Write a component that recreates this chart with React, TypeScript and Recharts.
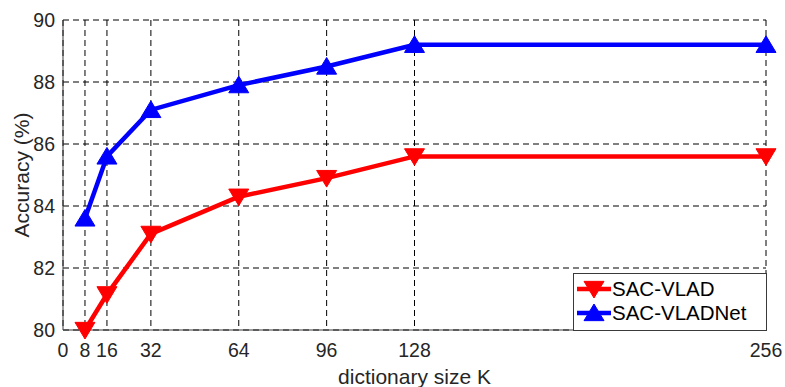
import { CartesianGrid, Line, LineChart, XAxis, YAxis } from "recharts";

const dictSizes = [8, 16, 32, 64, 96, 128, 256];
const sacVlad = [80.0, 81.15, 83.1, 84.3, 84.9, 85.6, 85.6];
const sacVladNet = [83.6, 85.6, 87.1, 87.9, 88.5, 89.2, 89.2];
const xTicks = [0, 8, 16, 32, 64, 96, 128, 256];
const yTicks = [80, 82, 84, 86, 88, 90];

const data = dictSizes.map((k, i) => ({
  k,
  vlad: sacVlad[i],
  vladNet: sacVladNet[i],
}));

const FONT = "'Liberation Sans', Arial, Helvetica, sans-serif";
const TEXT = "#262626";
const FRAME = "#3a3a3a";

function Triangle({
  cx,
  cy,
  color,
  down,
}: {
  cx?: number;
  cy?: number;
  color: string;
  down?: boolean;
}) {
  if (cx == null || cy == null) return null;
  const w = 10;
  const h = down ? 9 : -9;
  const points = `${cx - w},${cy - h * 0.85} ${cx + w},${cy - h * 0.85} ${cx},${cy + h}`;
  return <polygon points={points} fill={color} stroke={color} strokeWidth={1} />;
}

// legend sits inside the plot, lower right, like matlab's "southeast"
function LegendBox() {
  const rows = [
    { name: "SAC-VLAD", color: "#ff0000", down: true },
    { name: "SAC-VLADNet", color: "#0000ff", down: false },
  ];
  return (
    <svg
      width={194}
      height={58}
      style={{ position: "absolute", left: 573, top: 273, display: "block" }}
    >
      <rect x={0.5} y={0.5} width={193} height={57} fill="#fff" stroke={FRAME} strokeWidth={1} />
      {rows.map((r, i) => {
        const y = 16 + i * 24;
        return (
          <g key={r.name}>
            <line x1={4} x2={38} y1={y} y2={y} stroke={r.color} strokeWidth={4.5} />
            <Triangle cx={21} cy={y} color={r.color} down={r.down} />
            <text x={39} y={y + 7} fontSize={20.5} fontFamily={FONT} fill="#000">
              {r.name}
            </text>
          </g>
        );
      })}
    </svg>
  );
}

export default function App() {
  return (
    <div style={{ width: 785, height: 387, background: "#fff", position: "relative" }}>
      <style>{`body{margin:0}`}</style>
      <LineChart
        width={785}
        height={387}
        data={data}
        margin={{ top: 20, right: 19, bottom: 0, left: 0 }}
        style={{ fontFamily: FONT }}
      >
        <CartesianGrid stroke="#000" strokeDasharray="6 4" strokeWidth={1} />
        <XAxis
          dataKey="k"
          type="number"
          domain={[0, 256]}
          ticks={xTicks}
          interval={0}
          height={57}
          tickLine={false}
          axisLine={{ stroke: FRAME, strokeWidth: 1 }}
          tick={{ fill: TEXT, fontSize: 19.5, fontFamily: FONT }}
          tickMargin={7}
          label={{
            value: "dictionary size K",
            position: "insideBottom",
            offset: 3,
            fill: TEXT,
            fontSize: 21,
            fontFamily: FONT,
          }}
        />
        <XAxis
          xAxisId="top"
          dataKey="k"
          type="number"
          domain={[0, 256]}
          orientation="top"
          height={0}
          tick={false}
          tickLine={false}
          axisLine={{ stroke: FRAME, strokeWidth: 1 }}
        />
        <YAxis
          type="number"
          domain={[80, 90]}
          ticks={yTicks}
          interval={0}
          width={63}
          tickLine={false}
          axisLine={{ stroke: FRAME, strokeWidth: 1 }}
          tick={{ fill: TEXT, fontSize: 19.5, fontFamily: FONT }}
          tickMargin={2}
          label={{
            value: "Accuracy (%)",
            angle: -90,
            position: "insideLeft",
            offset: 22,
            style: { textAnchor: "middle" },
            fill: TEXT,
            fontSize: 21,
            fontFamily: FONT,
          }}
        />
        <YAxis
          yAxisId="right"
          type="number"
          domain={[80, 90]}
          orientation="right"
          width={0}
          tick={false}
          tickLine={false}
          axisLine={{ stroke: FRAME, strokeWidth: 1 }}
        />
        <Line
          dataKey="vlad"
          name="SAC-VLAD"
          stroke="#ff0000"
          strokeWidth={4.5}
          isAnimationActive={false}
          dot={(p: any) => (
            <Triangle key={`v-${p.index}`} cx={p.cx} cy={p.cy} color="#ff0000" down />
          )}
          activeDot={false}
        />
        <Line
          dataKey="vladNet"
          name="SAC-VLADNet"
          stroke="#0000ff"
          strokeWidth={4.5}
          isAnimationActive={false}
          dot={(p: any) => (
            <Triangle key={`n-${p.index}`} cx={p.cx} cy={p.cy} color="#0000ff" />
          )}
          activeDot={false}
        />
      </LineChart>
      <LegendBox />
    </div>
  );
}
